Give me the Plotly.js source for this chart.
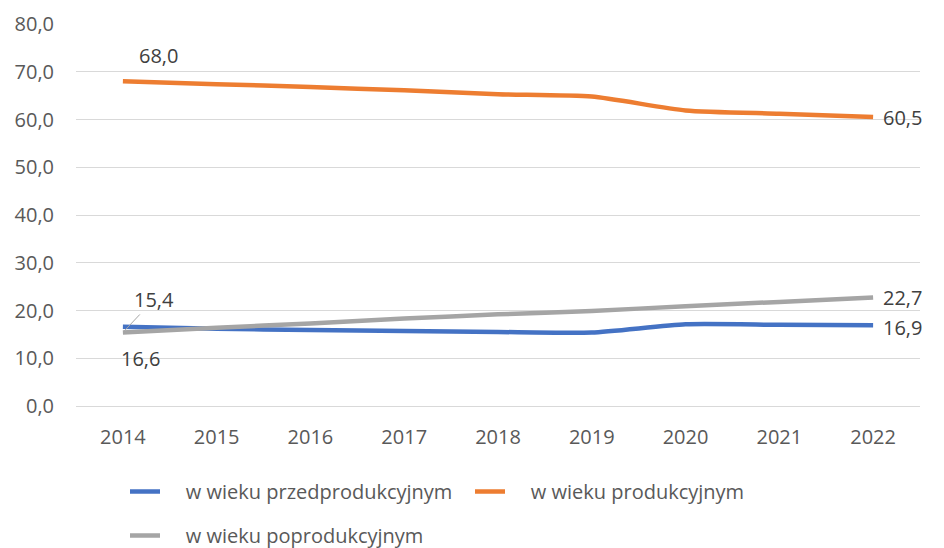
<!DOCTYPE html>
<html>
<head>
<meta charset="utf-8">
<script src="https://cdn.plot.ly/plotly-3.0.1.min.js"></script>
<style>html,body{margin:0;padding:0;background:#fff}#chart{width:944px;height:548px}</style>
</head>
<body>
<div id="chart"></div>
<script>
var years = ["2014","2015","2016","2017","2018","2019","2020","2021","2022"];
var przed = [16.6, 16.2, 15.9, 15.7, 15.5, 15.4, 17.1, 17.0, 16.9];
var prod = [68.0, 67.4, 66.8, 66.1, 65.3, 64.8, 61.9, 61.2, 60.5];
var poprod = [15.4, 16.4, 17.3, 18.3, 19.2, 19.9, 20.9, 21.8, 22.7];
var names = ["w wieku przedprodukcyjnym", "w wieku produkcyjnym", "w wieku poprodukcyjnym"];
var colors = ["#4472C4", "#ED7D31", "#A5A5A5"];

var FONT = "Open Sans, sans-serif";
var PAD = "\u00A0\u00A0\u00A0\u00A0";
function tr(y, i, leg) {
  return {x: years, y: y, name: PAD + names[i], type: "scatter", mode: "lines",
    line: {color: colors[i], width: 4.5, shape: "spline", smoothing: 0.6},
    legend: leg, hoverinfo: "skip"};
}
var data = [tr(przed, 0, "legend"), tr(prod, 1, "legend"), tr(poprod, 2, "legend2")];

function fmt(v) { return v.toFixed(1).replace(".", ","); }
var first = 0, last = years.length - 1;
var lblFont = {family: FONT, size: 20, color: "#404040"};
var annotations = [
  {xref: "x", yref: "y", x: first, y: prod[first], text: fmt(prod[first]), showarrow: false, xshift: 36, yshift: 26, font: lblFont},
  {xref: "x", yref: "y", x: last, y: prod[last], text: fmt(prod[last]), showarrow: false, xanchor: "left", xshift: 8, yshift: 0, font: lblFont},
  {xref: "x", yref: "y", x: first, y: poprod[first], text: fmt(poprod[first]), showarrow: true, arrowhead: 0, arrowwidth: 1, arrowcolor: "#A5A5A5", ax: 31, ay: -33, standoff: 2, font: lblFont},
  {xref: "x", yref: "y", x: first, y: przed[first], text: fmt(przed[first]), showarrow: false, xshift: 18, yshift: -32, font: lblFont},
  {xref: "x", yref: "y", x: last, y: poprod[last], text: fmt(poprod[last]), showarrow: false, xanchor: "left", xshift: 8, yshift: 0, font: lblFont},
  {xref: "x", yref: "y", x: last, y: przed[last], text: fmt(przed[last]), showarrow: false, xanchor: "left", xshift: 8, yshift: -2, font: lblFont}
];

var layout = {
  width: 944, height: 548,
  margin: {l: 76, r: 24, t: 24, b: 142},
  paper_bgcolor: "#fff", plot_bgcolor: "#fff",
  separators: ", ",
  font: {family: FONT, size: 20, color: "#595959"},
  showlegend: true,
  xaxis: {type: "category", range: [-0.5, 8.5], showgrid: false, showline: false, zeroline: false,
    ticks: "", tickfont: {family: FONT, size: 20, color: "#595959"}, ticklabelstandoff: 17},
  yaxis: {range: [0, 80], dtick: 10, tickformat: ".1f", showgrid: true, gridcolor: "#D9D9D9", gridwidth: 1,
    zeroline: true, zerolinecolor: "#D9D9D9", zerolinewidth: 1, showline: false, ticks: "",
    tickfont: {family: FONT, size: 20, color: "#595959"}, ticklabelstandoff: 21},
  legend: {orientation: "h", xref: "container", yref: "container", x: 125/944, y: 1 - 472/548,
    xanchor: "left", yanchor: "top", entrywidth: 300, font: {family: FONT, size: 20, color: "#595959"},
    bgcolor: "rgba(0,0,0,0)"},
  legend2: {orientation: "h", xref: "container", yref: "container", x: 125/944, y: 1 - 516/548,
    xanchor: "left", yanchor: "top", font: {family: FONT, size: 20, color: "#595959"},
    bgcolor: "rgba(0,0,0,0)"},
  annotations: annotations
};
Plotly.newPlot("chart", data, layout, {displayModeBar: false, staticPlot: true});
</script>
</body>
</html>
